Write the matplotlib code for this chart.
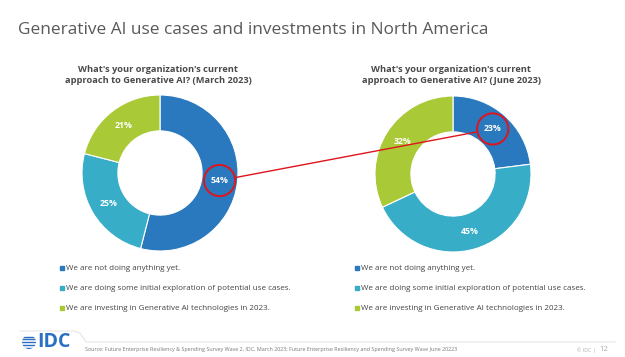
import matplotlib
matplotlib.use("Agg")
import matplotlib.pyplot as plt
from matplotlib.patches import Circle, ConnectionPatch, Rectangle
from matplotlib.lines import Line2D

plt.rcParams['font.family'] = ['Open Sans', 'DejaVu Sans']

# data
answers = ["We are not doing anything yet.",
           "We are doing some initial exploration of potential use cases.",
           "We are investing in Generative AI technologies in 2023."]
march_2023 = [54, 25, 21]
june_2023 = [23, 45, 32]
colors = ["#2a78bd", "#37adc8", "#a9c936"]
titles = ["What's your organization's current\napproach to Generative AI? (March 2023)",
          "What's your organization's current\napproach to Generative AI? (June 2023)"]

W, H = 625, 357
fig = plt.figure(figsize=(W / 100, H / 100), dpi=100)
fig.patch.set_facecolor("white")


def fx(px):
    return px / W


def fy(py):
    # py measured from top
    return 1 - py / H


fig.text(fx(18), fy(30), "Generative AI use cases and investments in North America",
         fontsize=12.4, color="#595959", va="center", ha="left")

R = 78
centers = [(160, 173), (453, 174)]
axes = []
label_pos = []
for (cx, cy), vals, title in zip(centers, [march_2023, june_2023], titles):
    ax = fig.add_axes([fx(cx - R), fy(cy + R), 2 * R / W, 2 * R / H])
    wedges, texts, autotexts = ax.pie(
        vals, colors=colors, startangle=90, counterclock=False,
        wedgeprops=dict(width=0.46, edgecolor="white", linewidth=0.8),
        autopct="%.0f%%", pctdistance=0.77,
        textprops=dict(color="white", fontsize=6.3, fontweight="bold"))
    ax.set_xlim(-1, 1)
    ax.set_ylim(-1, 1)
    ax.set_aspect("equal")
    ax.axis("off")
    axes.append(ax)
    label_pos.append(autotexts[0].get_position())
    fig.text(fx(cx - 2), fy(75), title, ha="center", va="center", fontsize=6.7,
             fontweight="bold", color="#4a4a4a", linespacing=1.2)

# red highlight circles and connector
red = "#e0141c"
ring_r = 0.2
for ax, pos in zip(axes, label_pos):
    ax.add_patch(Circle(pos, ring_r, fill=False, edgecolor=red, linewidth=1.4, zorder=5))
shrink = ring_r * R * 72 / 100
con = ConnectionPatch(xyA=label_pos[0], coordsA=axes[0].transData,
                      xyB=label_pos[1], coordsB=axes[1].transData,
                      color=red, linewidth=1.0, shrinkA=shrink, shrinkB=shrink,
                      zorder=10)
fig.add_artist(con)

# legends
for x0 in [60, 355]:
    for i, (lab, c) in enumerate(zip(answers, colors)):
        y = 268 + i * 20
        fig.add_artist(Rectangle((fx(x0), fy(y + 2)), fx(4), 4 / H, color=c,
                                 transform=fig.transFigure))
        fig.text(fx(x0 + 6), fy(y), lab, fontsize=5.8, color="#444444",
                 va="center", ha="left")

# footer
fig.add_artist(Line2D([fx(20), fx(74), fx(80), fx(86), fx(615)],
                      [fy(331), fy(331), fy(333), fy(342), fy(342)],
                      color="#e6e6e6", linewidth=0.8, transform=fig.transFigure))
for k in range(5):
    yy = 336.5 + k * 2.8
    ln = Line2D([fx(20), fx(38)], [fy(yy), fy(yy)], color="#2a6fc2", linewidth=1.0,
                transform=fig.transFigure)
    fig.add_artist(ln)
    ln.set_clip_path(Circle((29, H - 342), 7, transform=None))
fig.text(fx(37), fy(342), "IDC", fontsize=14, fontweight="bold", color="#2a6fc2",
         va="center", ha="left")
fig.text(fx(85), fy(350),
         "Source: Future Enterprise Resiliency & Spending Survey Wave 2, IDC, March 2023; "
         "Future Enterprise Resiliency and Spending Survey Wave June 20223",
         fontsize=3.85, color="#777777", va="center", ha="left")
fig.text(fx(596), fy(350), "© IDC |", fontsize=3.8, color="#aaaaaa", va="center", ha="right")
fig.text(fx(599), fy(349.5), "12", fontsize=5.5, color="#aaaaaa", va="center", ha="left")

fig.savefig("out.png", dpi=100, facecolor="white")
